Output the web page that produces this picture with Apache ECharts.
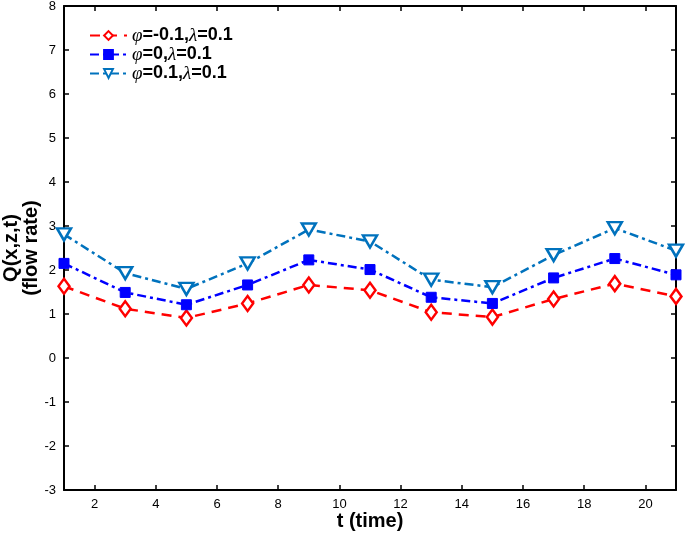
<!DOCTYPE html>
<html>
<head>
<meta charset="utf-8">
<script src="https://cdn.jsdelivr.net/npm/echarts@6/dist/echarts.min.js"></script>
<style>html,body{margin:0;padding:0;background:#fff}#c{width:685px;height:533px}</style>
</head>
<body>
<div id="c"></div>
<script>
const times = [1, 3, 5, 7, 9, 11, 13, 15, 17, 19, 21];
const seriesNames = ['φ=-0.1,λ=0.1', 'φ=0,λ=0.1', 'φ=0.1,λ=0.1'];
const phiNeg01 = [1.63, 1.12, 0.91, 1.24, 1.66, 1.54, 1.04, 0.93, 1.34, 1.69, 1.40];
const phi0 = [2.15, 1.49, 1.21, 1.66, 2.23, 2.01, 1.38, 1.24, 1.82, 2.26, 1.89];
const phi01 = [2.81, 1.93, 1.57, 2.15, 2.92, 2.65, 1.78, 1.61, 2.34, 2.95, 2.44];
const xTicks = [2, 4, 6, 8, 10, 12, 14, 16, 18, 20];
const yTicks = [-3, -2, -1, 0, 1, 2, 3, 4, 5, 6, 7, 8];

const pairs = arr => times.map((t, i) => [t, arr[i]]);
const font = 'Liberation Sans, Arial, Helvetica, sans-serif';

const chart = echarts.init(document.getElementById('c'), null, {renderer: 'canvas'});
const axisCommon = {
  axisLine: {show: true, onZero: false, lineStyle: {color: '#000', width: 2}},
  splitLine: {show: false}
};
const tickStyle = {show: true, inside: true, length: 5, lineStyle: {color: '#000', width: 1.5}};
chart.setOption({
  animation: false,
  backgroundColor: '#fff',
  grid: {left: 64, right: 9, top: 6, bottom: 43, outerBoundsMode: 'none', containLabel: false},
  legend: {
    left: 84, top: 21, orient: 'vertical', itemWidth: 37, itemHeight: 11, itemGap: 0,
    data: seriesNames,
    formatter: function (name) {
      return name.replace(/φ/g, '{g|φ}').replace(/λ/g, '{g|λ}').replace(/([^|φλ{}]+)(?=\{|$)/g, '{b|$1}');
    },
    textStyle: {
      lineHeight: 19,
      rich: {
        g: {fontFamily: 'Liberation Serif, serif', fontStyle: 'italic', fontSize: 19, color: '#000', lineHeight: 19},
        b: {fontFamily: font, fontWeight: 'bold', fontSize: 18, color: '#000', lineHeight: 19}
      }
    }
  },
  xAxis: [{
    type: 'value', min: 1, max: 21, position: 'bottom',
    ...axisCommon,
    name: 't (time)', nameLocation: 'middle', nameGap: 21, nameMoveOverlap: false,
    nameTextStyle: {fontFamily: font, fontWeight: 'bold', fontSize: 20, color: '#000'},
    axisTick: {...tickStyle, customValues: xTicks},
    axisLabel: {fontFamily: font, fontSize: 13, color: '#000', margin: 8, customValues: xTicks}
  }, {
    type: 'value', min: 1, max: 21, position: 'top',
    ...axisCommon,
    axisTick: {...tickStyle, customValues: xTicks},
    axisLabel: {show: false, customValues: xTicks}
  }],
  yAxis: [{
    type: 'value', min: -3, max: 8, interval: 1, position: 'left',
    ...axisCommon,
    name: 'Q(x,z,t)\n(flow rate)', nameLocation: 'middle', nameGap: 23, nameRotate: 90, nameMoveOverlap: false,
    nameTextStyle: {fontFamily: font, fontWeight: 'bold', fontSize: 20, color: '#000', lineHeight: 20},
    axisTick: tickStyle,
    axisLabel: {fontFamily: font, fontSize: 13, color: '#000', margin: 8}
  }, {
    type: 'value', min: -3, max: 8, interval: 1, position: 'right',
    ...axisCommon,
    axisTick: tickStyle,
    axisLabel: {show: false}
  }],
  series: [{
    name: seriesNames[0], type: 'line', data: pairs(phiNeg01),
    symbol: 'diamond', symbolSize: [11, 15],
    lineStyle: {color: '#ff0000', width: 2.5, type: [10, 7]},
    itemStyle: {color: '#fff', borderColor: '#ff0000', borderWidth: 2.5},
    z: 3
  }, {
    name: seriesNames[1], type: 'line', data: pairs(phi0),
    symbol: 'rect', symbolSize: 10,
    lineStyle: {color: '#0000ff', width: 2.5, type: [9, 4, 3, 4]},
    itemStyle: {color: '#0000ff', borderColor: '#0000ff', borderWidth: 1},
    z: 4
  }, {
    name: seriesNames[2], type: 'line', data: pairs(phi01),
    symbol: 'triangle', symbolRotate: 180, symbolSize: [14, 12],
    lineStyle: {color: '#0072BD', width: 2.5, type: [9, 4, 3, 4]},
    itemStyle: {color: '#fff', borderColor: '#0072BD', borderWidth: 2.5},
    z: 5
  }]
});
</script>
</body>
</html>
